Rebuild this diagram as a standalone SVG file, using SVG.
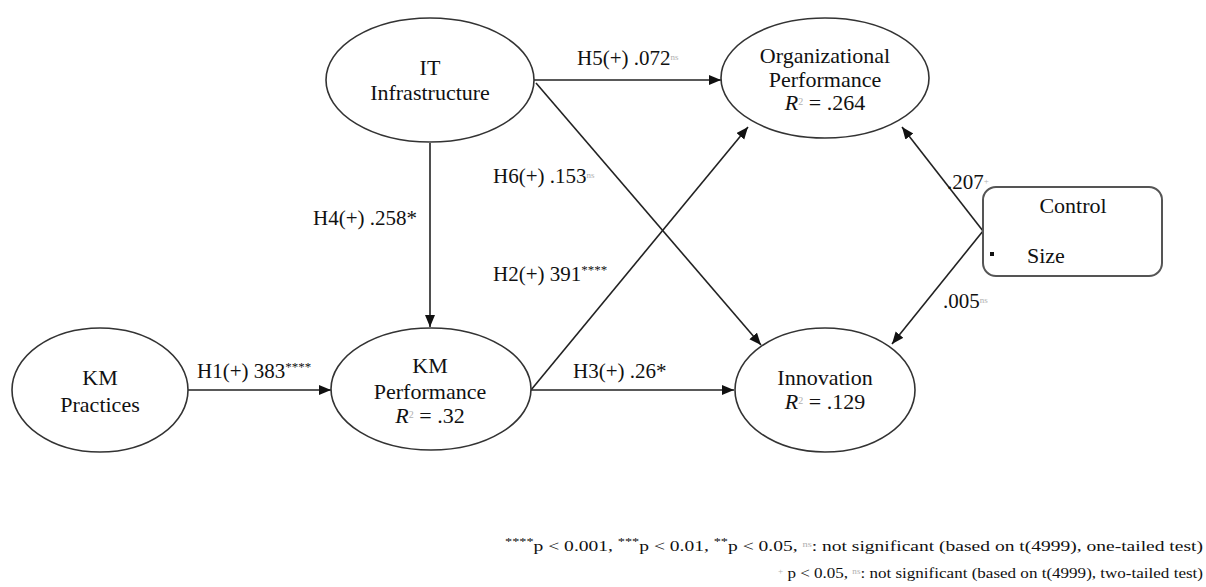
<svg xmlns="http://www.w3.org/2000/svg" width="1206" height="587" viewBox="0 0 1206 587">
<style>
.t{font-family:"Liberation Serif","Times New Roman",serif;font-size:22px;fill:#111;}
.l{font-family:"Liberation Serif","Times New Roman",serif;font-size:21px;fill:#111;}
.c{text-anchor:middle;}
.ns{font-size:9px;fill:#b0b0b0;}
.st{font-size:13px;fill:#111;}
.r2{font-size:10px;fill:#b0b0b0;}
.fn{font-family:"Liberation Serif","Times New Roman",serif;font-size:15px;fill:#111;}
.node{fill:#fff;stroke:#333;stroke-width:1.6;}
.edge{fill:none;stroke:#222;stroke-width:1.6;}
</style>
<defs>
<marker id="ah" markerUnits="userSpaceOnUse" markerWidth="13" markerHeight="11" refX="12" refY="5" orient="auto">
<path d="M0,0 L12,5 L0,10 z" fill="#111"/>
</marker>
</defs>
<rect width="1206" height="587" fill="#fff"/>
<g id="connectors">
<line class="edge" x1="188" y1="390" x2="331" y2="390" marker-end="url(#ah)"/>
<line class="edge" x1="430" y1="143" x2="430" y2="327" marker-end="url(#ah)"/>
<line class="edge" x1="533" y1="80" x2="721" y2="80" marker-end="url(#ah)"/>
<line class="edge" x1="536" y1="83" x2="761" y2="345" marker-end="url(#ah)"/>
<line class="edge" x1="531" y1="390" x2="748" y2="127" marker-end="url(#ah)"/>
<line class="edge" x1="531" y1="390" x2="734" y2="390" marker-end="url(#ah)"/>
<line class="edge" x1="983" y1="231" x2="902" y2="127" marker-end="url(#ah)"/>
<line class="edge" x1="983" y1="231" x2="892" y2="344" marker-end="url(#ah)"/>
<text class="l" x="197" y="378">H1(+) 383<tspan class="st" baseline-shift="super">****</tspan></text>
<text class="l" x="313" y="225">H4(+) .258*</text>
<text class="l" x="577" y="65">H5(+) .072<tspan class="ns" baseline-shift="super">ns</tspan></text>
<text class="l" x="493" y="183">H6(+) .153<tspan class="ns" baseline-shift="super">ns</tspan></text>
<text class="l" x="493" y="281">H2(+) 391<tspan class="st" baseline-shift="super">****</tspan></text>
<text class="l" x="573" y="378">H3(+) .26*</text>
<text class="l" x="947" y="189">.207<tspan class="ns" baseline-shift="super">+</tspan></text>
<text class="l" x="943" y="308">.005<tspan class="ns" baseline-shift="super">ns</tspan></text>
</g>
<g id="it-infrastructure">
<ellipse class="node" cx="430" cy="80" rx="104" ry="62"/>
<text class="t c" x="430" y="75">IT</text>
<text class="t c" x="430" y="100">Infrastructure</text>
</g>
<g id="organizational-performance">
<ellipse class="node" cx="825" cy="78" rx="104" ry="60"/>
<text class="t c" x="825" y="63">Organizational</text>
<text class="t c" x="825" y="87">Performance</text>
<text class="t c" x="825" y="110"><tspan font-style="italic">R</tspan><tspan class="r2" baseline-shift="super">2</tspan> = .264</text>
</g>
<g id="km-practices">
<ellipse class="node" cx="100" cy="390" rx="88" ry="62"/>
<text class="t c" x="100" y="385">KM</text>
<text class="t c" x="100" y="412">Practices</text>
</g>
<g id="km-performance">
<ellipse class="node" cx="431" cy="389" rx="100" ry="61"/>
<text class="t c" x="430" y="373">KM</text>
<text class="t c" x="430" y="399">Performance</text>
<text class="t c" x="430" y="423"><tspan font-style="italic">R</tspan><tspan class="r2" baseline-shift="super">2</tspan> = .32</text>
</g>
<g id="innovation">
<ellipse class="node" cx="825" cy="390" rx="90" ry="62"/>
<text class="t c" x="825" y="385">Innovation</text>
<text class="t c" x="825" y="409"><tspan font-style="italic">R</tspan><tspan class="r2" baseline-shift="super">2</tspan> = .129</text>
</g>
<g id="control">
<rect x="983" y="187" width="179" height="89" rx="13" fill="#fff" stroke="#555" stroke-width="2"/>
<text class="t c" x="1073" y="213">Control</text>
<rect x="990" y="252" width="4" height="4" fill="#111"/>
<text class="t" x="1027" y="263">Size</text>
</g>
<g id="footnote">
<text class="fn" x="505" y="551" textLength="698" lengthAdjust="spacingAndGlyphs"><tspan font-size="11" fill="#111" baseline-shift="super">****</tspan>p &lt; 0.001, <tspan font-size="11" fill="#111" baseline-shift="super">***</tspan>p &lt; 0.01, <tspan font-size="11" fill="#111" baseline-shift="super">**</tspan>p &lt; 0.05, <tspan font-size="8" fill="#b0b0b0" baseline-shift="super">ns</tspan>: not significant (based on t(4999), one-tailed test)</text>
<text class="fn" x="778" y="578" textLength="425" lengthAdjust="spacingAndGlyphs"><tspan font-size="8" fill="#b0b0b0" baseline-shift="super">+</tspan> p &lt; 0.05, <tspan font-size="8" fill="#b0b0b0" baseline-shift="super">ns</tspan>: not significant (based on t(4999), two-tailed test)</text>
</g>
</svg>
